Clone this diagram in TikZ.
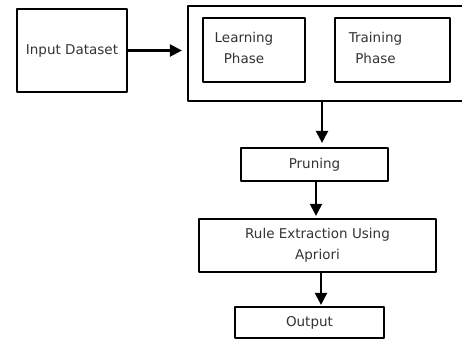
\documentclass[tikz,border=0pt]{standalone}
\usepackage{fontspec}
\setmainfont{DejaVu Sans}
\usetikzlibrary{arrows.meta,positioning}
\begin{document}
\begin{tikzpicture}[>={Triangle[length=12pt,width=12pt]},line join=round,x=1pt,y=-1pt,
	font=\fontsize{13.5}{21}\selectfont,
	box/.style={draw,line width=2.2pt,inner sep=0pt,text=black!80,align=center},
	txt/.style={inner sep=0pt,text=black!80,align=center},
	arr/.style={->,line width=2.2pt}]
	\useasboundingbox (0,0) rectangle (462,340);
	\node[box,minimum width=110pt,minimum height=83pt] (inp) at (72,50.5) {Input Dataset};
	\node[box,minimum width=284pt,minimum height=95pt] (phases) at (330,53.5) {};
	\node[box,minimum width=102pt,minimum height=64pt] (learn) at (254,50) {};
	\node[box,minimum width=115pt,minimum height=64pt] (train) at (392.5,50) {};
	\node[txt] (learntxt) at ([shift={(-10,-2.5)}]learn.center) {Learning\\Phase};
	\node[txt] (traintxt) at ([shift={(-17,-2.5)}]train.center) {Training\\Phase};
	\node[box,minimum width=147pt,minimum height=33pt] (prune) at (314.5,164.5) {Pruning};
	\node[box,minimum width=237pt,minimum height=53pt] (rule) at (317.5,245.5) {Rule Extraction Using\\Apriori};
	\node[box,minimum width=149pt,minimum height=31pt] (out) at (309.5,322.5) {Output};
	% connectors
	\draw[arr,shorten >=5pt] (inp.east) -- (inp.east -| phases.west);
	\draw[arr,shorten >=4pt] ([xshift=7.5pt]prune.north |- phases.south) -- ([xshift=7.5pt]prune.north);
	\draw[arr,shorten >=2pt] ([xshift=1.5pt]prune.south) -- ([xshift=1.5pt]prune.south |- rule.north);
	\draw[arr,shorten >=1pt] ([xshift=3.5pt]rule.south) -- ([xshift=3.5pt]rule.south |- out.north);
\end{tikzpicture}
\end{document}
